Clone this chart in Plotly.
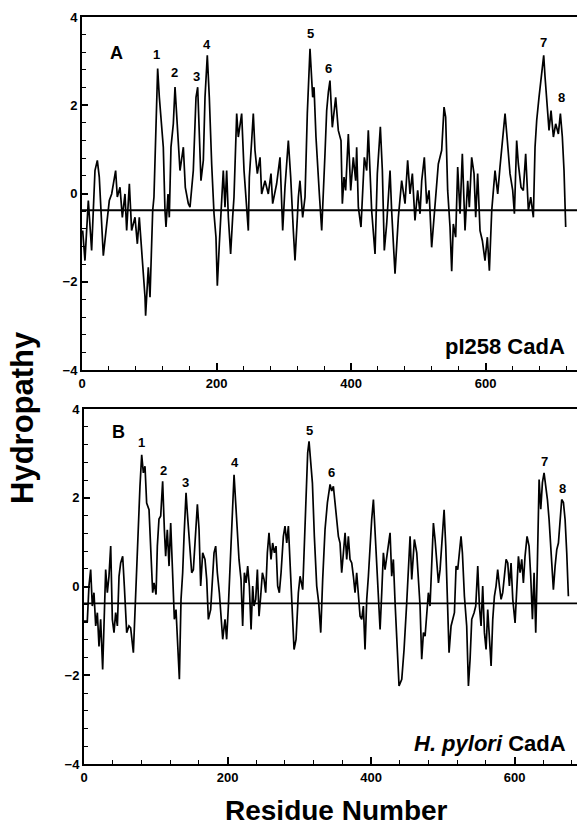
import plotly.graph_objects as go

# Panel A: pI258 CadA hydropathy profile
a_res = [1.0, 4.4, 9.4, 14.3, 19.3, 22.8, 25.7, 28.2, 31.7, 35.7, 40.6, 44.1, 46.6, 50.0, 52.5,
         56.5, 60.0, 63.9, 66.4, 70.4, 73.8, 78.8, 82.3, 85.2, 88.7, 91.2, 93.7, 94.6, 98.6, 101.1,
         102.6, 105.1, 107.0, 110.0, 112.5, 115.0, 118.4, 120.9, 123.4, 124.9, 127.9, 129.8, 132.3,
         135.8, 138.3, 140.7, 143.2, 145.7, 150.7, 153.6, 158.1, 160.6, 165.5, 169.5, 172.0, 174.4,
         176.9, 180.4, 182.9, 186.3, 189.3, 192.8, 196.3, 199.2, 201.2, 204.2, 207.7, 210.1, 212.6,
         215.1, 217.6, 221.0, 224.0, 226.0, 230.0, 232.4, 237.4, 240.9, 247.3, 248.8, 252.3, 254.7,
         257.2, 260.7, 264.7, 267.1, 272.1, 277.0, 281.0, 283.5, 289.4, 294.4, 298.4, 301.8, 306.8,
         310.3, 314.2, 316.7, 320.2, 321.7, 324.1, 328.1, 331.6, 335.0, 339.0, 343.0, 345.0, 347.9,
         352.9, 356.4, 361.3, 363.8, 366.3, 368.7, 372.2, 377.2, 381.1, 385.1, 387.1, 389.6, 392.0,
         396.0, 399.5, 403.4, 406.9, 408.4, 410.9, 414.8, 419.8, 423.3, 425.7, 430.7, 435.7, 439.1,
         443.6, 446.6, 449.5, 453.0, 458.0, 460.4, 465.4, 470.4, 475.3, 480.3, 484.2, 487.7, 491.2,
         495.1, 499.1, 502.6, 505.1, 509.0, 512.5, 516.0, 519.9, 523.9, 529.8, 534.8, 538.3, 540.7,
         543.7, 547.2, 549.7, 552.1, 555.6, 558.6, 562.1, 565.5, 569.5, 573.5, 575.9, 579.4, 582.9,
         585.4, 588.3, 591.8, 595.3, 599.2, 602.7, 605.7, 609.2, 614.1, 618.1, 621.5, 625.0, 629.0,
         632.4, 636.4, 640.4, 642.9, 646.3, 648.8, 652.8, 656.2, 659.7, 663.7, 667.2, 671.1, 673.6,
         676.1, 679.5, 683.5, 686.5, 688.5, 690.9, 694.4, 697.4, 700.9, 704.3, 708.3, 711.3, 714.2,
         716.7, 718.2, 719.2]
a_hyd = [-0.84, -1.52, -0.16, -1.29, 0.52, 0.75, 0.37, -0.39, -1.41, -0.84, -0.16, -0.01, 0.22, 0.52, -0.08,
         0.14, -0.54, -0.01, -0.84, 0.22, -0.84, -0.54, -1.14, -0.54, -1.29, -1.75, -2.35, -2.77, -1.67, -2.35,
         -1.59, -0.39, -0.08, 1.43, 2.83, 2.18, 1.43, 1.05, -0.39, -0.76, -0.01, -0.54, 1.05,
         1.58, 2.41, 1.81, 1.28, 0.52, 1.05, 0.14, -0.23, -0.31, 0.52, 2.18, 2.41, 1.43,
         0.29, 0.75, 2.18, 3.13, 2.18, 0.67, -0.46, -0.99, -2.09, -1.14, -0.08, 0.52, -0.31,
         0.52, -0.54, -1.37, -0.54, -0.08, 1.81, 1.28, 1.81, 0.52, -0.84, 0.37, 1.20, 1.81,
         0.98, 0.45, 0.82, -0.01, 0.29, -0.01, 0.45, -0.23, 0.22, 0.82, -0.84, 0.14, 1.20,
         0.37, -0.84, -1.52, -0.54, -0.08, 0.29, -0.54, -0.08, 1.81, 3.28, 2.18, 2.41, 1.28,
         -0.01, -0.84, 0.90, 1.88, 2.30, 2.56, 1.50, 2.18, 1.43, 1.20, -0.23, 0.37, 0.07,
         1.35, 0.07, 0.82, 0.29, 1.05, -0.31, -0.76, 0.82, 0.52, 1.43, -0.39, -1.37, 0.45,
         1.51, 0.52, -1.29, -0.69, 0.52, -0.39, -1.82, -0.54, 0.29, -0.23, 0.75, -0.01, 0.45,
         -0.61, 0.07, -0.46, 0.29, 0.82, -0.23, 0.07, -1.22, -0.39, 0.67, 0.98, 1.96, 1.73,
         0.07, -0.76, -1.76, -0.69, -0.99, 0.60, -0.46, 0.90, -0.84, 0.29, -0.31, 0.82, 0.45,
         -0.54, 0.45, -0.84, -1.07, -1.52, -0.99, -1.75, -0.39, 0.52, -0.01, 0.60, 1.13, 1.81,
         1.20, 0.45, 0.07, -0.46, 1.20, 0.67, 0.14, 0.07, 0.90, -0.39, -0.08, -0.54, 1.05,
         1.66, 2.18, 2.71, 3.13, 2.64, 2.18, 1.43, 1.88, 1.28, 1.58, 1.35, 1.81, 1.28,
         0.52, -0.39, -0.76]

# Panel B: H. pylori CadA hydropathy profile
b_res = [0.0, 4.6, 6.9, 9.3, 11.6, 13.9, 16.3, 18.6, 20.9, 23.2, 26.0, 27.9, 30.2, 32.5, 34.8,
         37.2, 39.5, 41.8, 44.1, 46.5, 48.8, 51.1, 53.9, 56.2, 59.5, 62.7, 65.0, 68.8, 71.1, 74.3,
         78.0, 80.4, 82.7, 85.0, 87.3, 90.6, 93.4, 95.7, 97.6, 100.4, 102.2, 104.5, 106.9, 109.6,
         112.0, 113.8, 116.1, 118.5, 120.8, 123.1, 125.9, 128.2, 130.6, 132.9, 135.2, 137.5, 139.4,
         142.2, 144.0, 146.8, 150.1, 152.4, 154.7, 158.0, 160.3, 162.6, 165.4, 168.6, 171.0, 173.3,
         176.5, 178.9, 181.2, 183.5, 185.8, 188.6, 190.5, 193.3, 196.5, 198.8, 201.2, 203.5, 205.8,
         209.1, 211.4, 213.7, 216.0, 218.8, 221.1, 223.5, 225.8, 228.1, 230.4, 232.8, 235.1, 236.9,
         239.3, 241.6, 243.9, 246.2, 248.6, 250.9, 253.2, 255.5, 257.8, 260.6, 262.9, 265.3, 267.6,
         269.9, 272.2, 274.6, 277.8, 280.1, 282.5, 284.8, 287.1, 289.9, 292.7, 295.5, 298.7, 301.1,
         304.8, 306.6, 309.4, 311.7, 313.6, 315.9, 318.3, 321.0, 324.3, 327.1, 329.9, 332.6, 335.9,
         339.2, 341.9, 342.9, 345.2, 347.5, 349.8, 352.2, 354.5, 356.8, 359.1, 361.5, 363.8, 366.1,
         368.4, 370.7, 373.1, 375.4, 377.7, 380.0, 382.4, 384.7, 387.0, 389.3, 391.6, 394.0, 396.3,
         398.6, 400.9, 403.3, 405.6, 407.9, 410.2, 412.6, 414.9, 417.2, 419.5, 421.8, 424.2, 426.5,
         428.8, 431.1, 433.5, 435.8, 439.0, 442.8, 446.0, 449.7, 452.0, 454.4, 456.7, 460.4, 463.7,
         466.0, 468.3, 470.6, 473.0, 475.3, 477.6, 479.9, 482.2, 484.6, 486.9, 489.2, 491.5, 493.9,
         496.2, 498.5, 501.8, 504.1, 506.9, 508.7, 511.5, 513.8, 516.2, 518.5, 520.8, 523.1, 525.4,
         527.3, 530.1, 533.3, 535.7, 538.0, 540.3, 543.6, 545.9, 548.7, 551.0, 553.3, 555.6, 558.0,
         560.3, 562.6, 564.9, 567.3, 569.6, 571.9, 574.2, 576.5, 578.9, 581.2, 583.5, 585.8, 588.2,
         590.5, 592.8, 595.1, 597.5, 600.7, 603.0, 605.4, 607.7, 610.0, 612.3, 614.6, 617.4, 620.2,
         622.5, 624.9, 627.2, 629.5, 631.8, 634.2, 636.5, 638.8, 641.1, 643.5, 645.8, 648.1, 650.9,
         654.1, 656.5, 658.8, 661.1, 663.4, 665.7, 668.1, 670.4, 672.7, 675.0]
b_hyd = [-0.78, -0.78, 0.01, 0.38, -0.44, -0.14, -0.89, -0.59, -1.35, -0.74, -1.87, -0.74, 0.38, -0.14, 0.23,
         0.91, -0.74, -1.04, -0.59, -0.89, 0.23, 0.53, 0.68, 0.01, -1.04, -0.89, -0.93, -1.49, -0.44, 0.91,
         2.26, 2.97, 2.56, 2.71, 1.88, 1.73, 0.76, -0.14, 0.08, -0.18, 0.91, 1.52, 1.59, 2.37,
         1.28, 0.68, 1.28, 0.46, 1.43, 0.31, -0.74, -0.52, -1.35, -2.09, -0.29, 0.31, 1.13,
         2.11, 1.66, 1.06, 0.31, 0.38, 0.91, 1.85, 1.29, 0.01, 0.76, 0.61, 0.16, -0.74,
         -0.52, 0.31, 0.76, 0.91, 0.31, -0.14, -0.67, -1.19, -0.74, -1.19, -0.44, 0.46, 1.36,
         2.52, 1.88, 1.28, 0.61, 0.16, -0.89, 0.31, 0.08, 0.46, 0.01, -0.97, 0.01, -0.44,
         -0.29, 0.38, -0.67, -0.22, 0.31, 0.16, -0.14, 0.76, 1.21, 0.61, 0.98, 0.76, 0.91,
         0.01, -0.14, 0.31, 1.13, 1.36, 0.98, 1.36, 0.38, -0.44, -1.42, -1.19, -0.14, 0.23,
         -0.07, 0.76, 1.88, 3.01, 3.27, 2.78, 2.33, 1.13, 0.01, -0.37, -1.04, 0.16, 1.29,
         1.89, 2.15, 2.30, 2.15, 2.26, 1.89, 1.51, 1.13, 0.98, 0.31, 0.76, 1.21, 0.61,
         1.13, 0.61, 0.53, 0.23, -0.14, 0.31, -0.22, -0.67, -0.74, -0.44, -1.42, -0.29, 0.23,
         0.91, 1.51, 1.96, 1.21, 0.53, -0.14, -0.97, -0.14, 0.76, 0.38, 0.68, 0.98, 1.21,
         0.23, 0.61, -0.37, -1.19, -2.24, -2.09, -1.42, -0.37, 0.53, 1.13, 0.16, 1.06, 0.76,
         0.08, -0.44, -1.64, -1.04, -1.12, -0.59, -0.14, -0.44, 0.46, 1.43, 1.06, 0.61, 0.08,
         0.38, 0.98, 1.73, 0.91, -0.44, -1.49, -0.89, -0.74, -0.59, 0.46, 0.38, 0.76, 1.13,
         0.76, -0.22, -0.89, -2.24, -1.64, -0.74, -0.59, -0.44, 0.46, -0.44, -0.89, 0.01, -1.04,
         -1.42, -0.52, -1.04, -1.79, -0.74, -0.22, 0.01, 0.38, 0.01, -0.29, -0.14, 0.31, 0.61,
         0.53, 0.01, 0.53, -0.29, -0.82, 0.01, 0.68, 0.31, 0.61, 0.08, 0.68, 1.13, 0.91,
         0.23, -0.74, 0.31, -1.04, 0.53, 2.41, 1.74, 2.34, 2.56, 2.26, 1.96, 1.51, 0.83,
         -0.07, 0.46, 0.83, 0.98, 1.58, 1.96, 1.89, 1.51, 0.76, -0.22]

ref_level = -0.38
x_ticks = [0, 200, 400, 600]
y_ticks = [-4, -2, 0, 2, 4]

peak_labels = ["1", "2", "3", "4", "5", "6", "7", "8"]
a_label_x = [110.5, 137.5, 169.5, 185.8, 339.8, 367.2, 685.5, 712.3]
a_label_y = [3.15, 2.74, 2.65, 3.38, 3.63, 2.84, 3.42, 2.18]
b_label_x = [80.4, 110.5, 141.5, 210.9, 314.6, 345.2, 642.1, 666.5]
b_label_y = [3.24, 2.62, 2.34, 2.80, 3.51, 2.56, 2.82, 2.21]

W, H = 577, 827
FONT = "Liberation Sans, Arial, sans-serif"

fig = go.Figure()
fig.add_trace(go.Scatter(x=a_res, y=a_hyd, mode="lines", xaxis="x", yaxis="y",
                         line=dict(color="black", width=1.7), showlegend=False))
fig.add_trace(go.Scatter(x=b_res, y=b_hyd, mode="lines", xaxis="x2", yaxis="y2",
                         line=dict(color="black", width=1.7), showlegend=False))

def px_x(p):
    return p / W

def px_y(p):
    return (H - p) / H

common_x = dict(
    tickvals=x_ticks, ticks="inside", ticklen=7, tickwidth=1.5, tickcolor="black",
    showline=True, linecolor="black", linewidth=2, mirror=True,
    showgrid=False, zeroline=False, automargin=False,
    tickfont=dict(family=FONT, size=13, color="black", weight="bold"),
    minor=dict(dtick=40, tick0=0, ticks="inside", ticklen=4, tickwidth=1.2, tickcolor="black", showgrid=False),
)
common_y = dict(
    range=[-4, 4], tickvals=y_ticks, ticks="inside", ticklen=6, tickwidth=1.5, tickcolor="black",
    showline=True, linecolor="black", linewidth=2, mirror=False,
    showgrid=False, zeroline=False, automargin=False,
    tickfont=dict(family=FONT, size=13, color="black", weight="bold"),
    minor=dict(dtick=0.4, tick0=0, ticks="inside", ticklen=3.5, tickwidth=1.2, tickcolor="black", showgrid=False),
)

fig.update_layout(
    width=W, height=H,
    margin=dict(l=0, r=0, t=0, b=0, autoexpand=False),
    paper_bgcolor="white", plot_bgcolor="white",
    xaxis=dict(domain=[px_x(82), 1.0], range=[0, 736], anchor="y", **common_x),
    yaxis=dict(domain=[px_y(370), px_y(17)], anchor="x", **common_y),
    xaxis2=dict(domain=[px_x(84), 1.0], range=[0, 687], anchor="y2", **common_x),
    yaxis2=dict(domain=[px_y(764), px_y(409)], anchor="x2", **common_y),
    shapes=[
        dict(type="line", xref="x domain", yref="y", x0=0, x1=1, y0=ref_level, y1=ref_level,
             line=dict(color="black", width=1.8)),
        dict(type="line", xref="x2 domain", yref="y2", x0=0, x1=1, y0=ref_level, y1=ref_level,
             line=dict(color="black", width=1.8)),
    ],
)

ann = []
for t, x, y in zip(peak_labels, a_label_x, a_label_y):
    ann.append(dict(text=t, x=x, y=y, xref="x", yref="y", showarrow=False,
                    font=dict(family=FONT, size=13, color="black", weight="bold")))
for t, x, y in zip(peak_labels, b_label_x, b_label_y):
    ann.append(dict(text=t, x=x, y=y, xref="x2", yref="y2", showarrow=False,
                    font=dict(family=FONT, size=13, color="black", weight="bold")))

ann += [
    dict(text="A", x=px_x(107.5), y=px_y(41), xref="paper", yref="paper", showarrow=False,
         font=dict(family=FONT, size=18, color="black", weight="bold")),
    dict(text="B", x=px_x(109.5), y=px_y(431.5), xref="paper", yref="paper", showarrow=False,
         font=dict(family=FONT, size=18, color="black", weight="bold")),
    dict(text="pI258 CadA", x=px_x(567), y=px_y(346), xref="paper", yref="paper",
         xanchor="right", yanchor="middle", showarrow=False,
         font=dict(family=FONT, size=22, color="black", weight="bold")),
    dict(text="<i>H. pylori</i> CadA", x=px_x(568), y=px_y(743), xref="paper", yref="paper",
         xanchor="right", yanchor="middle", showarrow=False,
         font=dict(family=FONT, size=22, color="black", weight="bold")),
    dict(text="Hydropathy", x=px_x(22), y=px_y(418), xref="paper", yref="paper",
         xanchor="center", yanchor="middle", textangle=-90, showarrow=False,
         font=dict(family=FONT, size=31, color="black", weight="bold")),
    dict(text="Residue Number", x=px_x(336), y=px_y(810), xref="paper", yref="paper",
         xanchor="center", yanchor="middle", showarrow=False,
         font=dict(family=FONT, size=28, color="black", weight="bold")),
]
fig.update_layout(annotations=ann)

fig.write_html(
    "out.html",
    config={"displayModeBar": False},
    post_script="document.body.style.margin='0';document.body.style.overflow='hidden';",
)
